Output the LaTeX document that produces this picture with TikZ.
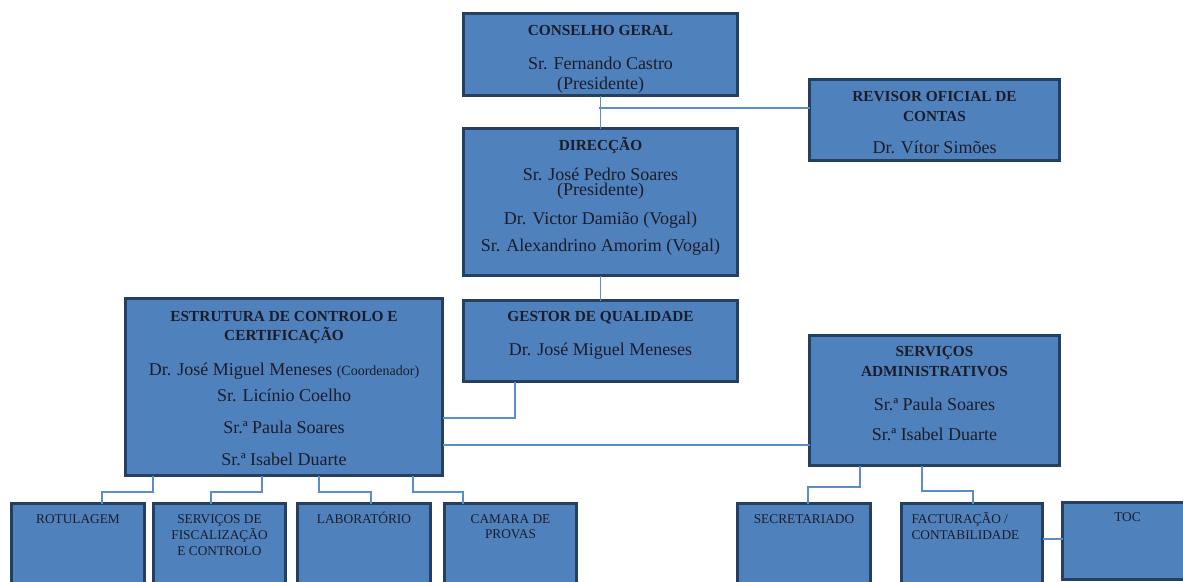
\documentclass[tikz,border=0pt]{standalone}
\usepackage{fontspec}
\setmainfont{Liberation Serif}
\usepackage{xcolor}
\usepackage{tikz}
\usetikzlibrary{positioning,calc}

\definecolor{boxblue}{HTML}{4F81BD}
\definecolor{boxedge}{HTML}{243F60}
\definecolor{linkblue}{HTML}{5B8BD0}
\definecolor{inkdark}{HTML}{1C1C28}

% one picture pixel
\newdimen\pxu \pxu=0.75pt
% box contents: width, height (px), lines
\newcommand{\boxbody}[3]{\parbox[t][#2\pxu][t]{#1\pxu}{\lineskiplimit=-1000pt\centering\hbox{}#3}}
% lines: distance from previous baseline (px), text
\newcommand{\titleline}[2]{{\fontsize{11.5}{12}\selectfont\bfseries\baselineskip=#1\pxu\relax #2\par}}
\newcommand{\nameline}[2]{{\fontsize{13.5}{14}\selectfont\baselineskip=#1\pxu\relax #2\par}}
\newcommand{\unitline}[2]{{\fontsize{10}{11}\selectfont\baselineskip=#1\pxu\relax #2\par}}

\begin{document}
\begin{tikzpicture}[x=0.75pt, y=-0.75pt,
    orgbox/.style={draw=boxedge, fill=boxblue, line width=2.3pt, inner sep=0pt, outer sep=0pt, text=inkdark, anchor=north west},
    link/.style={draw=linkblue, line width=1.1pt}]
    \useasboundingbox (0,0) rectangle (1183,582);
    \clip (0,0) rectangle (1183,582);

    % Top of the chart
    \node[orgbox] (cg) at (463.5,13.5) {\boxbody{274}{82}{%
        \titleline{21.5}{CONSELHO GERAL}
        \nameline{34}{Sr. Fernando Castro}
        \nameline{20}{(Presidente)}}};
    \node[orgbox] (rev) at (809.5,79.5) {\boxbody{250}{81}{%
        \titleline{22}{REVISOR OFICIAL DE}
        \titleline{20}{CONTAS}
        \nameline{31.5}{Dr. Vítor Simões}}};
    \node[orgbox] (dir) at (463.5,128.5) {\boxbody{274}{147}{%
        \titleline{21.5}{DIRECÇÃO}
        \nameline{30}{Sr. José Pedro Soares}
        \nameline{15.7}{(Presidente)}
        \nameline{28.3}{Dr. Victor Damião (Vogal)}
        \nameline{27.7}{Sr. Alexandrino Amorim (Vogal)}}};
    \node[orgbox] (gest) at (463.5,300.5) {\boxbody{274}{81}{%
        \titleline{21.2}{GESTOR DE QUALIDADE}
        \nameline{33.3}{Dr. José Miguel Meneses}}};

    % Middle row
    \node[orgbox] (estr) at (125.5,298.5) {\boxbody{317}{177}{%
        \titleline{23.2}{ESTRUTURA DE CONTROLO E}
        \titleline{18.3}{CERTIFICAÇÃO}
        \nameline{35}{Dr. José Miguel Meneses {\fontsize{10.5}{12}\selectfont(Coordenador)}}
        \nameline{26.7}{Sr. Licínio Coelho}
        \nameline{31.3}{Sr.ª Paula Soares}
        \nameline{32.7}{Sr.ª Isabel Duarte}}};
    \node[orgbox] (sa) at (809.5,335.5) {\boxbody{250}{130}{%
        \titleline{20.5}{SERVIÇOS}
        \titleline{20}{ADMINISTRATIVOS}
        \nameline{34}{Sr.ª Paula Soares}
        \nameline{30.7}{Sr.ª Isabel Duarte}}};

    % Bottom row
    \node[orgbox] (rot) at (11.5,503.5) {\boxbody{133}{120}{%
        \unitline{19.5}{ROTULAGEM}}};
    \node[orgbox] (sf) at (153.5,503.5) {\boxbody{132}{120}{%
        \unitline{19.5}{SERVIÇOS DE}
        \unitline{16}{FISCALIZAÇÃO}
        \unitline{16}{E CONTROLO}}};
    \node[orgbox] (lab) at (297.5,503.5) {\boxbody{133}{120}{%
        \unitline{19.5}{LABORATÓRIO}}};
    \node[orgbox] (cam) at (444.5,503.5) {\boxbody{132}{120}{%
        \unitline{19.5}{CAMARA DE}
        \unitline{15.5}{PROVAS}}};
    \node[orgbox] (sec) at (737.5,503.5) {\boxbody{133}{120}{%
        \unitline{19.5}{SECRETARIADO}}};
    \node[orgbox] (fac) at (901.5,503.5) {\boxbody{141}{120}{%
        \raggedright\leftskip=10\pxu
        \unitline{19.5}{FACTURAÇÃO /}
        \unitline{16}{CONTABILIDADE}}};
    \node[orgbox] (toc) at (1062.5,502.5) {\boxbody{130}{77}{%
        \unitline{18.5}{TOC}}};

    % Connectors
    \coordinate (rj) at (599,108);
    \draw[link] (cg) -- (dir);
    \draw[link] (rj) -- (rj -| rev.west);
    \draw[link] (dir) -- (gest);
    \coordinate (gq) at (515,418);
    \draw[link] (gest.south -| gq) -- (gq) -- (gq -| estr.east);
    \coordinate (ea) at (0,445);
    \draw[link] (estr.east |- ea) -- (sa.west |- ea);
    \foreach \a/\b/\n in {153/102/rot, 262/211/sf, 319/371/lab, 413/463/cam}{
        \coordinate (up) at (\a,492);
        \coordinate (dn) at (\b,492);
        \draw[link] (estr.south -| up) -- (up) -- (dn) -- (\n.north -| dn);
    }
    \foreach \a/\b/\y/\n in {860/808/487/sec, 922/973/491/fac}{
        \coordinate (up) at (\a,\y);
        \coordinate (dn) at (\b,\y);
        \draw[link] (sa.south -| up) -- (up) -- (dn) -- (\n.north -| dn);
    }
    \coordinate (ft) at (0,539);
    \draw[link] (fac.east |- ft) -- (toc.west |- ft);
\end{tikzpicture}
\end{document}
